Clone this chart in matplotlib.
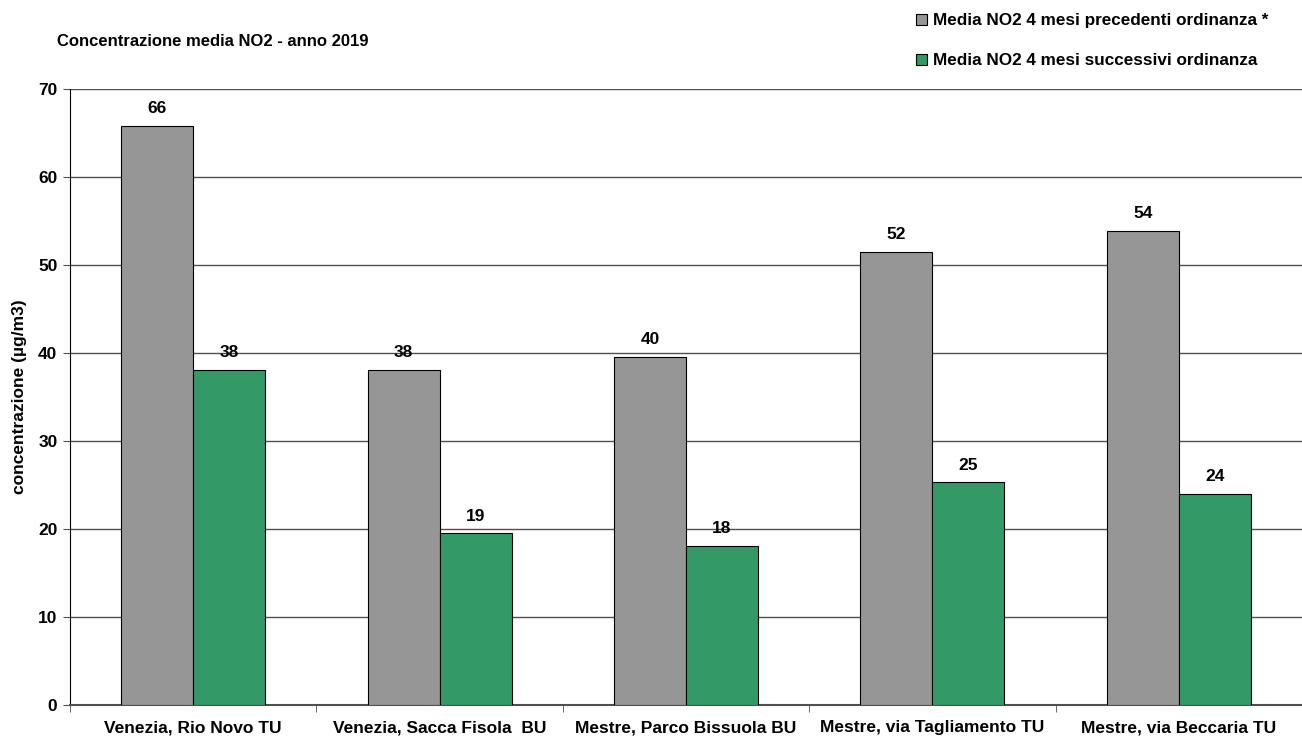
import matplotlib
matplotlib.use("Agg")
import matplotlib.pyplot as plt
import numpy as np

categories = ["Venezia, Rio Novo TU", "Venezia, Sacca Fisola  BU", "Mestre, Parco Bissuola BU",
              "Mestre, via Tagliamento TU", "Mestre, via Beccaria TU"]
prima = [65.8, 38.1, 39.6, 51.5, 53.9]
dopo = [38.1, 19.5, 18.1, 25.3, 24.0]
prima_labels = ["66", "38", "40", "52", "54"]
dopo_labels = ["38", "19", "18", "25", "24"]
series_names = ["Media NO2 4 mesi precedenti ordinanza *", "Media NO2 4 mesi successivi ordinanza"]
title = "Concentrazione media NO2 - anno 2019"
ylabel = "concentrazione (µg/m3)"

plt.rcParams['font.family'] = ['Liberation Sans', 'DejaVu Sans']
plt.rcParams['font.weight'] = 'bold'

fig = plt.figure(figsize=(13.02, 7.38), dpi=100)
ax = fig.add_axes([70/1302, 1-705/738, 1232/1302, 616/738])

x = np.arange(len(categories))
w = 0.292
b1 = ax.bar(x - w/2, prima, w, color='#969696', edgecolor='black', linewidth=0.8, label=series_names[0], zorder=3)
b2 = ax.bar(x + w/2, dopo, w, color='#339966', edgecolor='black', linewidth=0.8, label=series_names[1], zorder=3)
ax.bar_label(b1, labels=prima_labels, padding=7, fontsize=12.5, fontweight='bold')
ax.bar_label(b2, labels=dopo_labels, padding=7, fontsize=12.5, fontweight='bold')

ax.set_xlim(-0.5, len(categories) - 0.5)
ax.set_ylim(0, 70)
ax.set_yticks(range(0, 71, 10))
ax.yaxis.grid(True, color='#505050', linewidth=1, zorder=0)
ax.set_axisbelow(True)
ax.set_xticks(x)
ax.set_xticklabels(categories, fontsize=12.5, fontweight='bold')
ax.set_xticks(np.arange(-0.5, len(categories) + 0.5, 1), minor=True)
ax.tick_params(axis='x', which='major', length=0, pad=11)
ax.tick_params(axis='x', which='minor', length=5, color='#505050')
ax.tick_params(axis='y', length=5, labelsize=12.5, pad=4, color='#505050')
for s in ['top', 'right']:
    ax.spines[s].set_visible(False)
ax.spines['left'].set_color('black')
ax.spines['bottom'].set_color('#505050')
ax.spines['bottom'].set_linewidth(1.5)

ax.set_ylabel(ylabel, fontsize=12.5, fontweight='bold')
ax.yaxis.set_label_coords(-43/1232, 0.5)
fig.text(57/1302, 1-42/738, title, fontsize=12, fontweight='bold', va='center', ha='left')

fig.legend(handles=[b1, b2], labels=series_names, loc='upper left',
           bbox_to_anchor=(901/1302, 1+2/738), frameon=False,
           handlelength=0.63, handleheight=0.63, handletextpad=0.35, labelspacing=1.45,
           prop={'weight': 'bold', 'size': 12.3})

fig.savefig("out.png", dpi=100)
